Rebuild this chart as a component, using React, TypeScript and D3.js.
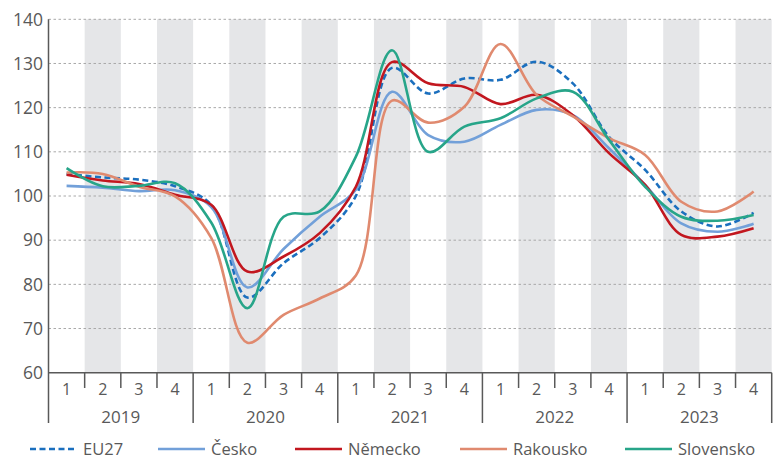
import { useEffect, useRef } from "react"
import * as d3 from "d3"

const years = ["2019", "2020", "2021", "2022", "2023"]
const quarters = ["1", "2", "3", "4"]
const yTicks = [60, 70, 80, 90, 100, 110, 120, 130, 140]

const eu27 = [105.0, 104.2, 103.7, 102.2, 98.0, 77.0, 84.8, 90.5, 100.0, 129.0, 123.2, 126.6, 126.3, 130.4, 125.5, 113.4, 105.9, 96.5, 93.1, 96.2]
const cesko = [102.3, 101.9, 101.1, 101.3, 97.5, 79.3, 88.0, 95.3, 101.4, 123.6, 113.8, 112.3, 116.1, 119.5, 118.3, 110.8, 102.5, 93.8, 91.9, 93.7]
const nemecko = [104.8, 103.5, 102.7, 100.3, 98.0, 82.9, 86.3, 91.6, 102.1, 130.3, 125.5, 124.7, 120.8, 122.9, 118.3, 109.7, 102.5, 91.2, 90.8, 92.7]
const rakousko = [105.3, 105.0, 102.1, 99.9, 90.5, 66.8, 73.1, 76.8, 82.0, 121.6, 116.6, 120.2, 134.4, 122.9, 118.0, 113.1, 109.3, 98.7, 96.5, 101.0]
const slovensko = [106.3, 102.2, 102.3, 102.9, 94.0, 74.6, 95.3, 96.5, 108.9, 133.0, 110.0, 115.7, 117.6, 122.1, 123.6, 112.7, 102.1, 95.3, 94.4, 95.7]

const series = [
  { name: "EU27", values: eu27, color: "#1b6fbe", dash: "6,3.5" },
  { name: "Česko", values: cesko, color: "#72a0d9", dash: null },
  { name: "Německo", values: nemecko, color: "#c2171f", dash: null },
  { name: "Rakousko", values: rakousko, color: "#e08a6f", dash: null },
  { name: "Slovensko", values: slovensko, color: "#27a589", dash: null },
]

const legendX = [30, 158, 295, 460, 625]

export default function App() {
  const svgRef = useRef<SVGSVGElement>(null)

  useEffect(() => {
    if (!svgRef.current) return
    const svg = d3.select(svgRef.current)
    svg.selectAll("*").remove()

    const left = 48.5
    const right = 771.7
    const top = 19.3
    const bottom = 372.7
    const font = "'Open Sans', sans-serif"
    const textColor = "#595959"

    const periods = years.flatMap((y) => quarters.map((q) => `${y}-${q}`))
    const x = d3.scaleBand().domain(periods).range([left, right])
    const y = d3.scaleLinear().domain([60, 140]).range([bottom, top])
    const cx = (i: number) => (x(periods[i]) as number) + x.bandwidth() / 2

    // grey bands for quarters 2 and 4
    svg
      .append("g")
      .selectAll("rect")
      .data(periods.filter((p) => p.endsWith("-2") || p.endsWith("-4")))
      .join("rect")
      .attr("x", (d) => x(d) as number)
      .attr("y", top)
      .attr("width", x.bandwidth())
      .attr("height", bottom - top)
      .attr("fill", "#e5e6e8")

    // gridlines
    svg
      .append("g")
      .selectAll("line")
      .data(yTicks.filter((t) => t > 60))
      .join("line")
      .attr("x1", left)
      .attr("x2", right)
      .attr("y1", (d) => y(d))
      .attr("y2", (d) => y(d))
      .attr("stroke", "#a8a8a8")
      .attr("stroke-width", 1)
      .attr("stroke-dasharray", "2.5,2.5")

    // y labels
    svg
      .append("g")
      .selectAll("text")
      .data(yTicks)
      .join("text")
      .attr("x", 43)
      .attr("y", (d) => y(d))
      .attr("dy", "0.36em")
      .attr("text-anchor", "end")
      .attr("font-family", font)
      .attr("font-size", 17.5)
      .attr("fill", textColor)
      .text((d) => d)

    // lines
    const line = d3
      .line<number>()
      .x((_, i) => cx(i))
      .y((d) => y(d))
      .curve(d3.curveCatmullRom.alpha(0.5))

    series.forEach((s) => {
      svg
        .append("path")
        .attr("d", line(s.values))
        .attr("fill", "none")
        .attr("stroke", s.color)
        .attr("stroke-width", 2.6)
        .attr("stroke-dasharray", s.dash)
    })

    // axes
    const axisColor = "#595959"
    svg.append("line").attr("x1", left).attr("x2", left).attr("y1", top).attr("y2", 423)
      .attr("stroke", axisColor).attr("stroke-width", 1.5)
    svg.append("line").attr("x1", left).attr("x2", right).attr("y1", bottom).attr("y2", bottom)
      .attr("stroke", axisColor).attr("stroke-width", 1.5)

    svg
      .append("g")
      .selectAll("line")
      .data(periods.slice(1))
      .join("line")
      .attr("x1", (d) => x(d) as number)
      .attr("x2", (d) => x(d) as number)
      .attr("y1", bottom)
      .attr("y2", (d) => (d.endsWith("-1") ? 423 : 388))
      .attr("stroke", axisColor)
      .attr("stroke-width", 1.5)
    svg.append("line").attr("x1", right).attr("x2", right).attr("y1", bottom).attr("y2", 423)
      .attr("stroke", axisColor).attr("stroke-width", 1.5)

    // quarter labels
    svg
      .append("g")
      .selectAll("text")
      .data(periods)
      .join("text")
      .attr("x", (_, i) => cx(i))
      .attr("y", 395)
      .attr("text-anchor", "middle")
      .attr("font-family", font)
      .attr("font-size", 16)
      .attr("fill", textColor)
      .text((d) => d.split("-")[1])

    // year labels
    svg
      .append("g")
      .selectAll("text")
      .data(years)
      .join("text")
      .attr("x", (d) => (x(`${d}-1`) as number) + x.bandwidth() * 2)
      .attr("y", 423)
      .attr("text-anchor", "middle")
      .attr("font-family", font)
      .attr("font-size", 17)
      .attr("fill", textColor)
      .text((d) => d)

    // legend
    const legend = svg.append("g")
    series.forEach((s, i) => {
      legend
        .append("line")
        .attr("x1", legendX[i])
        .attr("x2", legendX[i] + 47)
        .attr("y1", 449)
        .attr("y2", 449)
        .attr("stroke", s.color)
        .attr("stroke-width", 2.6)
        .attr("stroke-dasharray", s.dash)
      legend
        .append("text")
        .attr("x", legendX[i] + 53)
        .attr("y", 455)
        .attr("font-family", font)
        .attr("font-size", 16.5)
        .attr("fill", textColor)
        .text(s.name)
    })
  }, [])

  return (
    <div style={{ position: "absolute", left: 0, top: 0 }}>
      <svg ref={svgRef} width={775} height={459} style={{ display: "block", background: "#fff" }} />
    </div>
  )
}
